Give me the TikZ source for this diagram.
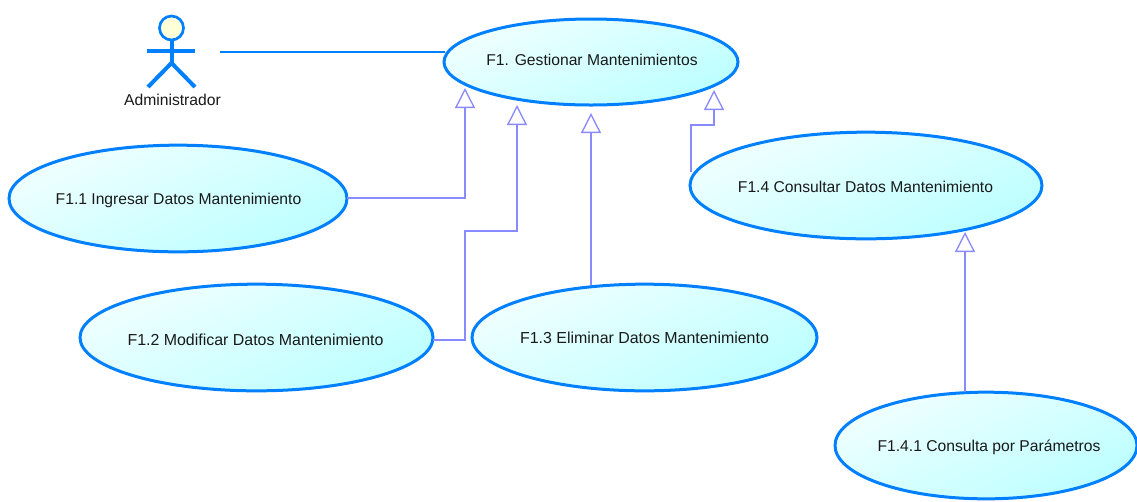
\documentclass[tikz,border=0pt]{standalone}
\usepackage{fontspec}
\setmainfont{Liberation Sans}
\usetikzlibrary{arrows.meta,shapes.geometric}
\definecolor{ucblue}{HTML}{0080FF}
\definecolor{genline}{HTML}{8A8AFF}
\definecolor{ucstart}{HTML}{F0FFFF}
\definecolor{ucend}{HTML}{BCFFFF}
\definecolor{headfill}{HTML}{FFFFD8}
\tikzset{
  usecase/.style={ellipse,draw=ucblue,line width=2.25pt,top color=ucstart,bottom color=ucend,shading angle=25,
    inner sep=0pt,outer sep=0pt},
  uclabel/.style={font=\fontsize{11.75}{13}\selectfont,text=black!90,inner sep=0pt},
  uclabelwide/.style={font=\fontsize{11.95}{13}\selectfont,text=black!90,inner sep=0pt},
  gen/.style={draw=genline,line width=1pt,-{Triangle[open,fill=white,length=15pt,width=15pt,line width=1pt]}},
  assoc/.style={draw=ucblue,line width=1pt},
  limb/.style={draw=ucblue,line width=3pt},
}
\begin{document}
\begin{tikzpicture}[x=0.75pt,y=-0.75pt]
\useasboundingbox (0,0) rectangle (1137,501);
\node[usecase,minimum width=220.5pt,minimum height=64.5pt] (f1) at (591,62) {};
\node[usecase,minimum width=253.5pt,minimum height=80pt] (f11) at (178,198.5) {};
\node[usecase,minimum width=264.75pt,minimum height=80pt] (f12) at (256.5,337.5) {};
\node[usecase,minimum width=258.75pt,minimum height=80pt] (f13) at (644.5,337.5) {};
\node[usecase,minimum width=264pt,minimum height=80pt] (f14) at (866,185.5) {};
\node[usecase,minimum width=226.5pt,minimum height=80pt] (f141) at (986,445.5) {};
\node[uclabel] (l1) at (592,60) {F1. Gestionar Mantenimientos};
\node[uclabel] (l11) at (178.5,200.5) {F1.1 Ingresar Datos Mantenimiento};
\node[uclabelwide] (l12) at (255.5,339.5) {F1.2 Modificar Datos Mantenimiento};
\node[uclabelwide] (l13) at (644.5,338) {F1.3 Eliminar Datos Mantenimiento};
\node[uclabel] (l14) at (865.5,186.5) {F1.4 Consultar Datos Mantenimiento};
\node[uclabel] (l141) at (989,447) {F1.4.1 Consulta por Parámetros};
% actor
\node[circle,draw=ucblue,line width=2pt,fill=headfill,minimum size=18pt,inner sep=0pt,outer sep=0pt] (head) at (171.5,28) {};
\coordinate (hip) at (171.5,63);
\coordinate (armL) at (147,51);
\coordinate (armR) at (195,51);
\coordinate (footL) at (148,87);
\coordinate (footR) at (195,87);
\draw[limb] (head.south) -- (hip);
\draw[limb] (armL) -- (armR);
\draw[limb] (footL) -- (hip) -- (footR);
\node[uclabel] (admin) at (172.5,100) {Administrador};
\coordinate (actorend) at (220,52);
\coordinate (f1west) at (445,52);
\draw[assoc] (actorend) -- (f1west);
% generalisations
\coordinate (t1) at (465,88);
\coordinate (t2) at (517,105);
\coordinate (t3) at (591,113);
\coordinate (t4) at (714,90);
\coordinate (t5) at (965,232);
\coordinate (s1) at (347,198);
\coordinate (s2) at (433,340);
\coordinate (s3) at (591,285);
\coordinate (s4) at (691,172);
\coordinate (s5) at (965,392);
\draw[gen] (s1) -| (t1);
\draw[gen] (s2) -- (465,340) -- (465,231) -- (517,231) -- (t2);
\draw[gen] (s3) -- (t3);
\draw[gen] (s4) -- (691,125) -- (714,125) -- (t4);
\draw[gen] (s5) -- (t5);
\end{tikzpicture}
\end{document}
